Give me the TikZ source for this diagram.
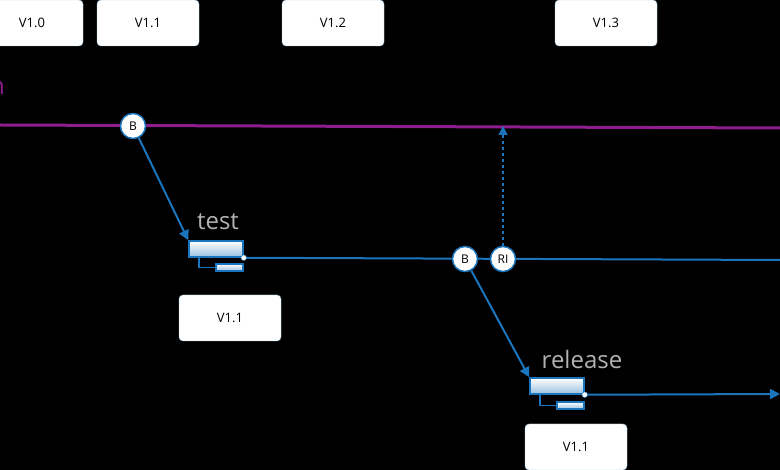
\documentclass[tikz,border=0pt]{standalone}
\usepackage{fontspec}
\setmainfont{Open Sans}
\usetikzlibrary{arrows.meta}
\definecolor{br}{HTML}{1B75BC}
\definecolor{pu}{HTML}{8E1E8E}
\tikzset{
 ver/.style={draw=br!40,fill=white,rounded corners=4pt,minimum width=102pt,minimum height=46pt,font=\fontsize{13}{15}\selectfont,inner sep=0},
 cmark/.style={circle,draw=br,fill=white,line width=1.5pt,minimum size=25pt,inner sep=0,font=\fontsize{12}{13}\selectfont},
 bl/.style={draw=br,line width=2pt},
 lbl/.style={text=gray!60,font=\fontsize{24}{26}\selectfont,inner sep=0},
 bar/.style={draw=br,line width=1.5pt,top color=white,bottom color=br!45,inner sep=0},
}
\begin{document}
\begin{tikzpicture}[x=1pt,y=-1pt]
\fill[black] (0,0) rectangle (780,470);
\useasboundingbox (0,0) rectangle (780,470);
\node[ver] (v0) at (32,23) {V1.0};
\node[ver] (v1) at (148,23) {V1.1};
\node[ver] (v2) at (333,23) {V1.2};
\node[ver] (v3) at (606,23) {V1.3};
\node[ver] (v4) at (230,318) {V1.1};
\node[ver] (v5) at (576,447) {V1.1};
\node[text=pu,font=\fontsize{24}{26}\selectfont,anchor=east,inner sep=0] (ml) at (5,88) {n};
\coordinate (pl) at (0,125);
\coordinate (pr) at (780,128);
\draw[pu,line width=3pt] (pl) -- (pr);
\node[cmark] (b1) at (133,126) {B};
% test branch
\node[bar,minimum width=54pt,minimum height=16pt] (t1) at (216,249) {};
\node[bar,minimum width=27pt,minimum height=7pt] (t2) at (229.5,267.5) {};
\node[lbl] (tl) at (218,222) {test};
\draw[br,line width=1.2pt] (199,257) |- (t2.west);
\draw[bl,-{Triangle[length=10pt,width=10pt]}] (b1) -- (t1.north west);
\coordinate (tr) at (780,260);
\draw[bl] (t1.south east) -- (tr);
\node[circle,fill=white,draw=br,inner sep=2pt] (d1) at (t1.south east) {};
\node[cmark] (b2) at (465,259) {B};
\node[cmark] (ri) at (503,259) {RI};
\coordinate (rt) at (503,126);
\draw[br,line width=1.2pt,dashed,-{Triangle[length=9pt,width=9pt]}] (ri) -- (rt);
% release
\node[bar,minimum width=54pt,minimum height=16pt] (r1) at (557,386) {};
\node[bar,minimum width=27pt,minimum height=7pt] (r2) at (570.5,405.5) {};
\node[lbl] (rl) at (582,360) {release};
\draw[br,line width=1.2pt] (540,394) |- (r2.west);
\draw[bl,-{Triangle[length=10pt,width=10pt]}] (b2) -- (r1.north west);
\coordinate (rr) at (780,394);
\draw[bl,-{Triangle[length=10pt,width=10pt]}] (r1.south east) -- (rr);
\node[circle,fill=white,draw=br,inner sep=2pt] (d2) at (r1.south east) {};
\end{tikzpicture}
\end{document}
